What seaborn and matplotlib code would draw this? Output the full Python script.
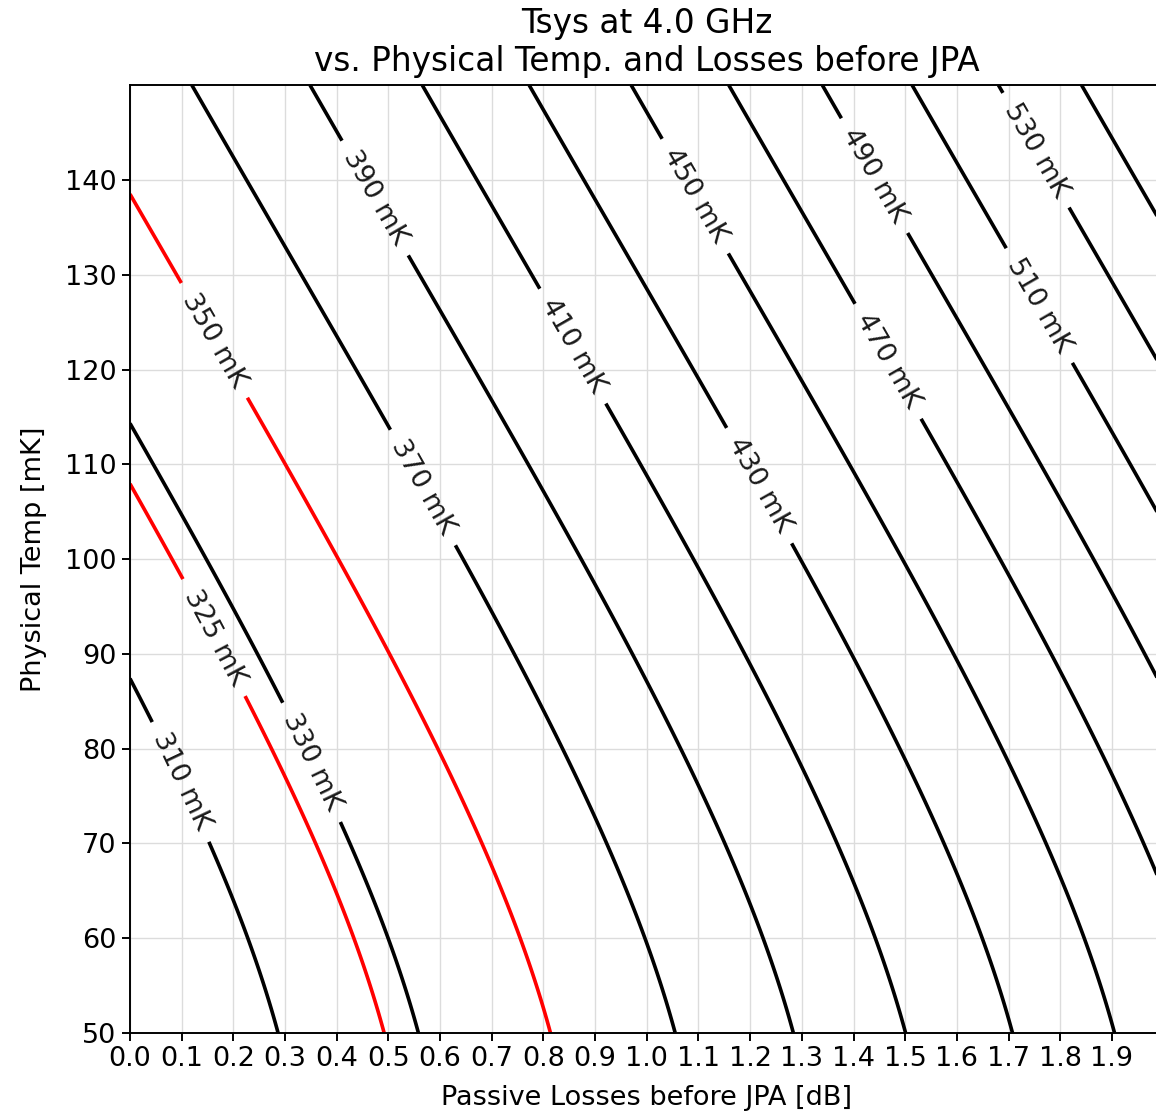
import numpy as np
import matplotlib
matplotlib.use("Agg")
import matplotlib.pyplot as plt
import seaborn as sns

# ---- data / model parameters ----
freq_ghz = 4.0                      # analysis frequency
t_jpa_mk = 190.0                    # added noise of the JPA [mK]
loss_db = np.linspace(0.0, 2.0, 201)        # passive losses before JPA [dB]
phys_temp_mk = np.linspace(50.0, 150.0, 201)  # physical temperature [mK]
black_levels = [310, 330, 370, 390, 410, 430, 450, 470, 490, 510, 530, 550, 570]
labeled_black = [310, 330, 370, 390, 410, 430, 450, 470, 490, 510, 530]
red_levels = [325, 350]
x_ticks = [round(0.1 * i, 1) for i in range(20)]
y_ticks = [50, 60, 70, 80, 90, 100, 110, 120, 130, 140]

# ---- physics: Tsys = G * (T_eff(T) + T_jpa), T_eff = hf/2k coth(hf/2kT) ----
h = 6.62607015e-34
kb = 1.380649e-23
hf2k_mk = h * freq_ghz * 1e9 / (2 * kb) * 1e3
L, T = np.meshgrid(loss_db, phys_temp_mk)
gain = 10 ** (L / 10.0)
t_eff = hf2k_mk / np.tanh(hf2k_mk / T)
tsys = gain * (t_eff + t_jpa_mk)

# ---- styling ----
s = 1.74
fs = 10 * s * 1.12
sns.set_theme(style="ticks")
plt.rcParams["font.family"] = ["DejaVu Sans"]
plt.rcParams.update({
    "axes.linewidth": 0.8 * s,
    "xtick.major.width": 0.8 * s,
    "ytick.major.width": 0.8 * s,
    "xtick.major.size": 3.5 * s,
    "ytick.major.size": 3.5 * s,
    "xtick.labelsize": fs,
    "ytick.labelsize": fs,
    "axes.labelsize": fs,
    "axes.edgecolor": "black",
    "xtick.color": "black",
    "ytick.color": "black",
    "text.color": "black",
    "axes.labelcolor": "black",
})

W, H = 1156, 1117
fig = plt.figure(figsize=(W / 100, H / 100), dpi=100)
left, right, top, bottom = 130, 1163.6, 85.2, 1033
ax = fig.add_axes([left / W, 1 - bottom / H, (right - left) / W, (bottom - top) / H])

ax.grid(True, color="#dcdcdc", linewidth=1.0)
ax.set_axisbelow(True)

fmt = lambda v: f"{v:.0f} mK"
cs_k = ax.contour(L, T, tsys, levels=black_levels, colors="black", linewidths=1.5 * s)
black_label_pos = [(0.106, 76.7), (0.372, 79.1), (0.565, 107.5), (0.484, 138.4),
                   (0.861, 122.6), (1.219, 107.8), (1.097, 138.4), (1.471, 121.0),
                   (1.442, 140.5), (1.761, 126.8), (1.755, 143.2)]
ax.clabel(cs_k, levels=labeled_black, fmt=fmt, fontsize=fs, colors="k",
          manual=black_label_pos, inline_spacing=14)
cs_r = ax.contour(L, T, tsys, levels=red_levels, colors="red", linewidths=1.5 * s)
red_label_pos = [(0.155, 91.5), (0.164, 123.1)]
ax.clabel(cs_r, fmt=fmt, fontsize=fs, colors="k", manual=red_label_pos,
          inline_spacing=14)

ax.set_xlim(0, 2.0)
ax.set_ylim(50, 150)
ax.set_xticks(x_ticks)
ax.set_xticklabels([f"{v:.1f}" for v in x_ticks])
ax.set_yticks(y_ticks)
ax.set_xlabel("Passive Losses before JPA [dB]", labelpad=9)
ax.set_ylabel("Physical Temp [mK]", labelpad=13)
ax.set_title("Tsys at 4.0 GHz\nvs. Physical Temp. and Losses before JPA",
             fontsize=12 * s * 1.13, pad=6 * s)

fig.savefig("out.png", dpi=100)
